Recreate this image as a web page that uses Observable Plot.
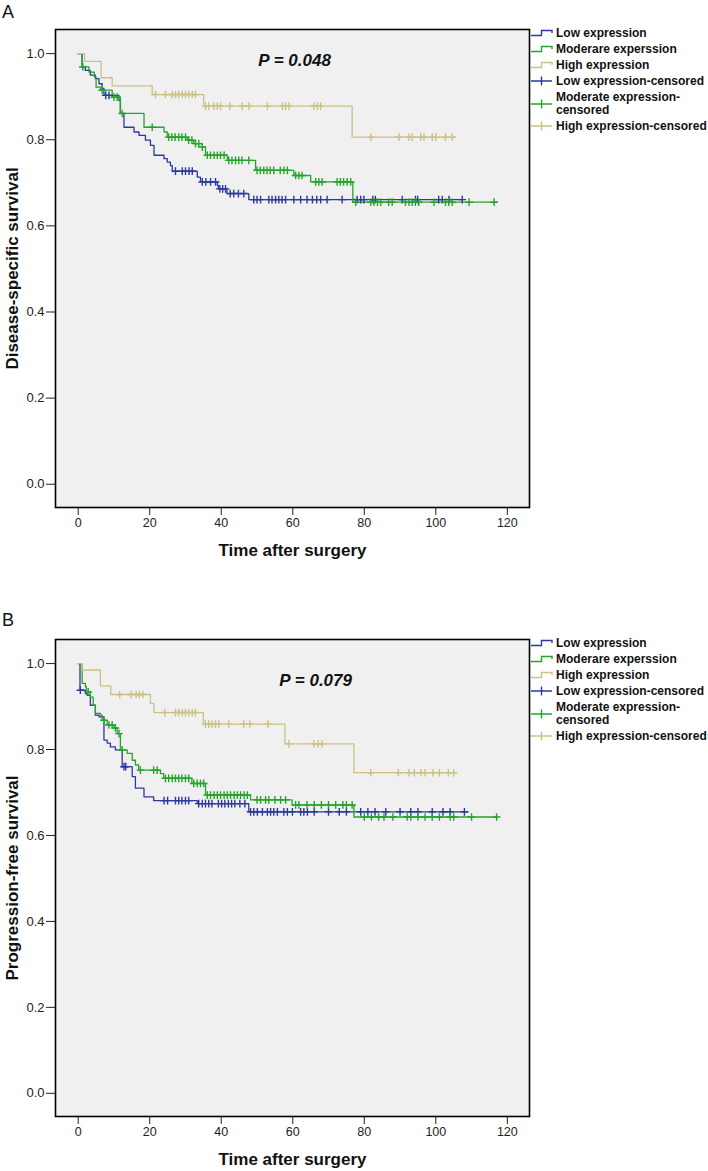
<!DOCTYPE html>
<html><head><meta charset="utf-8">
<script src="https://cdn.jsdelivr.net/npm/d3@7"></script>
<script src="https://cdn.jsdelivr.net/npm/@observablehq/plot@0.6"></script>
<style>
body{margin:0;background:#fff;font-family:"Liberation Sans",Arial,sans-serif;}
#page{position:relative;width:708px;height:1171px;overflow:hidden;background:#fff;}
.letter{position:absolute;left:2px;font-size:18px;line-height:18px;color:#111;}
.plot{position:absolute;left:0;}
.legend{position:absolute;left:531px;font-weight:bold;font-size:12px;color:#111;}
.legend .item{display:flex;align-items:center;line-height:12.6px;padding:1.7px 0;}
.legend svg{flex:none;width:23px;height:12px;margin-right:2px;}
</style>
</head><body><div id="page"></div>
<script>
// ---------- data ----------
const xTicks = [0, 20, 40, 60, 80, 100, 120];
const yTicks = [0, 0.2, 0.4, 0.6, 0.8, 1.0];
const groups = ["Low expression", "Moderare experssion", "High expression"];
const colors = ["#2b3a9c", "#27a32d", "#cbc185"];
const legendLabels = ["Low expression", "Moderare experssion", "High expression",
  "Low expression-censored", "Moderate expression-\ncensored", "High expression-censored"];
const panelLetters = ["A", "B"];
const yLabels = ["Disease-specific survival", "Progression-free survival"];
const xLabel = "Time after surgery";
const pLabels = ["P = 0.048", "P = 0.079"];
const pPos = [[60.5, 0.984], [66.4, 0.961]];

// Panel A: [time, survival] steps, censored times
const A_low_steps = [[0,1],[1.1,0.969],[2.0,0.961],[3.4,0.950],[4.8,0.942],[5.8,0.930],[6.7,0.919],[7.2,0.903],[11.4,0.891],[11.8,0.861],[12.8,0.829],[15.6,0.818],[17,0.810],[18.8,0.799],[20.2,0.787],[21.2,0.764],[24,0.756],[24.9,0.748],[25.8,0.740],[26.3,0.727],[33.3,0.713],[34.2,0.702],[38.9,0.694],[39.2,0.686],[41.6,0.675],[47.7,0.661],[107.5,0.661]];
const A_low_cens = [7.7,8.6,27.2,29.1,30,31,31.9,34.7,35.7,37,38.4,39.6,40.4,41.2,42.5,43.5,44.8,46.3,49.1,50,51,53.3,54.2,55.2,56.1,57,58,60.3,62.2,64,65.5,66.7,67.8,69.6,73.8,78,79,79.9,82.4,83.1,90.6,94.3,94.9,100.8,101.8,103.7,107.4];
const A_mod_steps = [[0,1],[1.1,0.969],[3.0,0.957],[4.5,0.946],[5.0,0.922],[6.2,0.915],[9.5,0.899],[11.8,0.861],[18.4,0.829],[24,0.818],[24.9,0.806],[30.5,0.799],[32.3,0.791],[34.7,0.783],[35.6,0.764],[41.7,0.752],[49.6,0.729],[60.3,0.717],[65,0.702],[76.8,0.655],[117.2,0.655]];
const A_mod_cens = [1.3,6.7,10,10.9,12.3,20.7,25.3,26.2,27.1,28.1,29,30,30.9,31.8,32.8,33.7,34.7,36.1,37,38,38.9,39.8,40.8,42.1,43,44,44.9,45.8,47.7,50,50.9,51.9,52.8,53.7,54.7,56.5,57.5,58.5,60.8,61.7,62.6,66.4,67.3,68.2,72.4,73.3,74.2,75.2,76.2,77.6,81.8,82.7,83.7,84.6,86.8,87.8,91.5,92.5,93.4,94.3,95.2,99.5,102.7,103.6,104.6,109.3,116.3];
const A_high_steps = [[0,1],[1.8,0.982],[6.4,0.944],[9.5,0.925],[20.7,0.905],[35.1,0.878],[76.6,0.806],[105.5,0.806]];
const A_high_cens = [21.6,24.4,26.3,27.2,28.1,29.1,30,30.9,31.9,32.8,35.6,36.5,37.9,38.9,39.8,42.4,45.9,47.7,52.9,57.1,58,58.9,65.9,66.9,67.8,81.8,89.7,92.5,93.4,95.8,96.7,99,100,102.7,104.6];

// Panel B
const B_low_steps = [[0,1],[0.5,0.938],[2.0,0.930],[2.5,0.926],[3.4,0.903],[4.8,0.880],[5.8,0.876],[7.2,0.822],[8.1,0.815],[9.0,0.806],[10.4,0.799],[12.3,0.760],[15.1,0.737],[16.0,0.710],[18.4,0.690],[21.1,0.681],[33.3,0.674],[47.7,0.655],[109,0.655]];
const B_low_cens = [0.6,12.8,13.3,24,25,27.2,28.1,29,30,30.9,33.7,34.7,35.6,36.5,37.4,39.2,40.1,41,42,42.9,43.8,45.2,46.6,48.2,49.1,50.1,51.5,52.9,53.8,54.7,55.7,57.5,58.5,59.9,62.2,63.1,64.1,66,70,73,75,79,81,83,86,90,93,95,99,102,104,108];
const B_mod_steps = [[0,1],[1.1,0.954],[2.0,0.946],[2.3,0.934],[3.4,0.922],[4.2,0.903],[4.8,0.884],[6.2,0.880],[6.7,0.868],[8.1,0.857],[10.0,0.850],[10.9,0.837],[11.8,0.799],[13.7,0.791],[15.1,0.775],[16.0,0.764],[16.9,0.752],[23.0,0.744],[23.9,0.733],[31.8,0.721],[35.6,0.694],[48.2,0.683],[59.8,0.671],[77.1,0.643],[117.2,0.643]];
const B_mod_cens = [2.8,7.2,8.6,9.5,10.4,11.4,12.3,17.4,21.1,22.1,24.4,25.3,26.3,27.2,28.1,29,30,30.9,32.3,33.3,34.2,35.1,36.1,37,38,38.9,39.8,40.8,41.7,42.6,43.6,44.5,45.4,46.4,47.3,50,51,52.4,53.3,55,56.6,58,60.8,61.7,64,66,68,70,72,74,75,76.6,80,82,84,85.5,88,92,93,95,97,99,101,104,105,110,117];
const B_high_steps = [[0,1],[1.1,0.985],[6.2,0.948],[9.1,0.928],[20.2,0.907],[21.2,0.886],[35.0,0.859],[57.8,0.813],[77.1,0.746],[105.5,0.746]];
const B_high_cens = [11.6,14.8,16.2,17.1,18.1,24.2,27.2,28.1,29.1,30,30.9,31.9,32.8,35.6,36.5,37.4,38.4,39.3,42.1,46.3,48,53.1,58.9,65.9,67.1,68.2,81.8,89.5,92.5,94,95.8,97,99.2,101,103.5,105];

// ---------- drawing ----------
function survAt(steps, t) {
  let s = steps[0][1];
  for (const [tt, ss] of steps) { if (tt <= t) s = ss; else break; }
  return s;
}

function makePanel(i, stepsList, censList, height, marginBottom) {
  const lineData = [], censData = [];
  stepsList.forEach((steps, g) => steps.forEach(([t, s]) => lineData.push({t, s, g: groups[g]})));
  censList.forEach((cens, g) => cens.forEach(t => censData.push({t, s: survAt(stepsList[g], t), g: groups[g]})));
  const pData = [{x: pPos[i][0], y: pPos[i][1], label: pLabels[i]}];
  const svg = Plot.plot({
    width: 531, height, marginLeft: 55, marginRight: 2, marginTop: 29, marginBottom,
    x: {domain: [-6.35, 126.2]},
    y: {domain: [-0.054, 1.056]},
    color: {domain: groups, range: colors},
    style: {fontFamily: "'Liberation Sans', Arial, sans-serif", fontSize: "12px", color: "#222", background: "transparent", overflow: "visible"},
    marks: [
      Plot.frame({fill: "#f0f0f0", stroke: null}),
      Plot.axisX({ticks: xTicks, tickSize: 8, tickPadding: 3, fontSize: 12.5, tickFormat: d3.format("d"), label: xLabel, labelAnchor: "center", labelOffset: 48, labelArrow: "none"}),
      Plot.axisY({ticks: yTicks, tickSize: 9, tickPadding: 2, fontSize: 13, tickFormat: d3.format(".1f"), label: yLabels[i], labelAnchor: "center", labelOffset: 50, labelArrow: "none"}),
      Plot.line(lineData, {x: "t", y: "s", z: "g", stroke: "g", curve: "step-after", strokeWidth: 1.3}),
      Plot.dot(censData, {x: "t", y: "s", stroke: "g", symbol: "plus", r: 2.6, strokeWidth: 1.4}),
      Plot.text(pData, {x: "x", y: "y", text: "label", fontWeight: "bold", fontStyle: "italic", fontSize: 17, fill: "#111"}),
      Plot.frame({stroke: "#000", strokeWidth: 1.6})
    ]
  });
  for (const lab of ["x-axis label", "y-axis label"]) {
    const g = svg.querySelector(`[aria-label="${lab}"]`);
    if (g) { g.setAttribute("font-weight", "bold"); g.setAttribute("font-size", "17"); g.setAttribute("fill", "#111");
      g.querySelectorAll("text").forEach(t => { t.style.fontWeight = "bold"; t.style.fontSize = "17px"; t.style.fill = "#111"; }); }
  }
  return svg;
}

function makeLegend() {
  const div = document.createElement("div");
  div.className = "legend";
  legendLabels.forEach((lab, k) => {
    const item = document.createElement("div");
    item.className = "item";
    const c = colors[k % 3];
    const icon = k < 3
      ? `<svg viewBox="0 0 23 12"><path d="M0,8.5H10.5V3.5H21V6" fill="none" stroke="${c}" stroke-width="1.4"/></svg>`
      : `<svg viewBox="0 0 23 12"><path d="M0,6H21M10.5,1.5V10.5" fill="none" stroke="${c}" stroke-width="1.4"/></svg>`;
    item.innerHTML = icon + `<span>${lab.replace("\n", "<br>")}</span>`;
    div.appendChild(item);
  });
  return div;
}

const page = document.getElementById("page");
const tops = [0, 610];
const heights = [570, 561];
const mbs = [63, 55];
const stepsAll = [[A_low_steps, A_mod_steps, A_high_steps], [B_low_steps, B_mod_steps, B_high_steps]];
const censAll = [[A_low_cens, A_mod_cens, A_high_cens], [B_low_cens, B_mod_cens, B_high_cens]];
const legendTops = [25.5, 635.5];
const letterTops = [3, 611];

for (let i = 0; i < 2; i++) {
  const letter = document.createElement("div");
  letter.className = "letter"; letter.style.top = letterTops[i] + "px"; letter.textContent = panelLetters[i];
  page.appendChild(letter);
  const wrap = document.createElement("div");
  wrap.className = "plot"; wrap.style.top = tops[i] + "px";
  wrap.appendChild(makePanel(i, stepsAll[i], censAll[i], heights[i], mbs[i]));
  page.appendChild(wrap);
  const leg = makeLegend();
  leg.style.top = legendTops[i] + "px";
  page.appendChild(leg);
}
</script>
</body></html>
